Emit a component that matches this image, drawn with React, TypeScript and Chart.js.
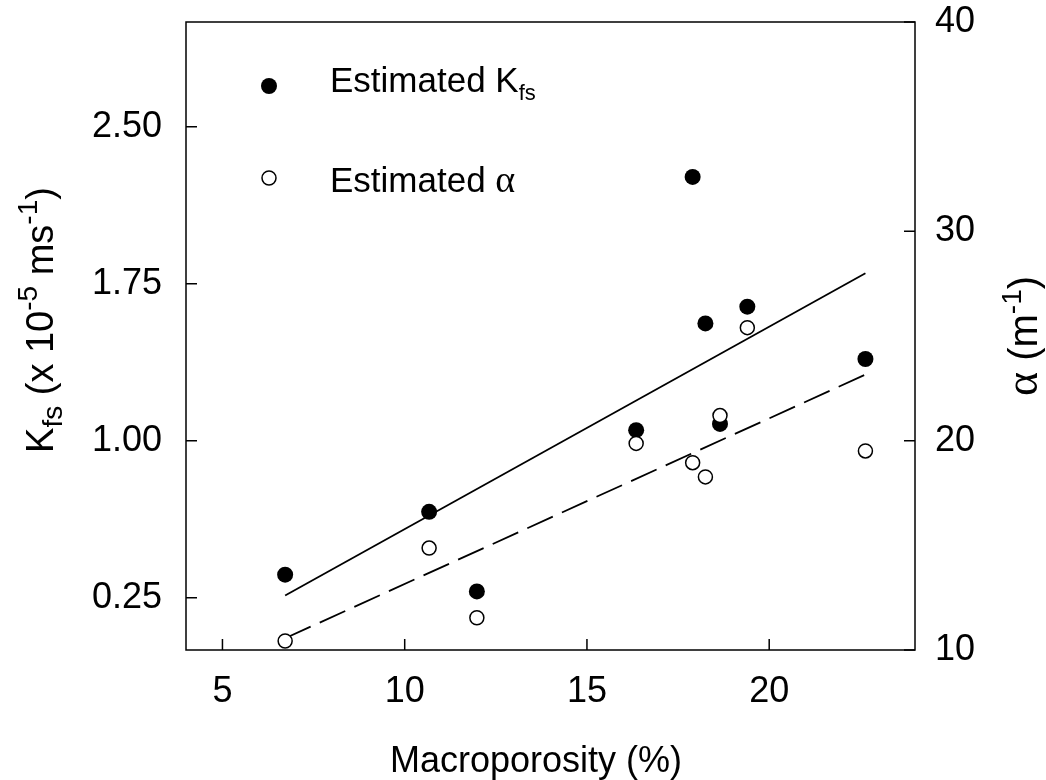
import React, { useEffect, useRef } from "react";
import { Chart, registerables } from "chart.js";
Chart.register(...registerables);

// ---- Data ----
const macroporosity = [6.72, 10.67, 11.98, 16.35, 17.9, 18.25, 18.65, 19.4, 22.64];
const kfsValues = [0.36, 0.66, 0.28, 1.05, 2.26, 1.56, 1.08, 1.64, 1.39];
const alphaValues = [10.43, 14.87, 11.54, 19.87, 18.95, 18.27, 21.2, 25.4, 19.51];
const kfsFitX = [6.72, 22.64];
const kfsFitY = [0.26, 1.8];
const alphaFitX = [6.72, 22.62];
const alphaFitY = [10.56, 23.14];
const xTicks = [5, 10, 15, 20];
const kfsTicks = [0.25, 1.0, 1.75, 2.5];
const alphaTicks = [10, 20, 30, 40];

const SANS = "'Liberation Sans', Arial, sans-serif";
const SERIF = "'Liberation Serif', 'Times New Roman', serif";

type Seg = { t: string; size: number; dy: number; serif?: boolean };

function drawRich(
  ctx: CanvasRenderingContext2D,
  segs: Seg[],
  x: number,
  y: number,
  rot: number,
  align: "center" | "left"
) {
  ctx.save();
  ctx.translate(x, y);
  ctx.rotate(rot);
  ctx.fillStyle = "#000";
  ctx.textBaseline = "alphabetic";
  ctx.textAlign = "left";
  const widths = segs.map((s) => {
    ctx.font = `${s.size}px ${s.serif ? SERIF : SANS}`;
    return ctx.measureText(s.t).width;
  });
  const total = widths.reduce((a, b) => a + b, 0);
  let cx = align === "center" ? -total / 2 : 0;
  segs.forEach((s, i) => {
    ctx.font = `${s.size}px ${s.serif ? SERIF : SANS}`;
    ctx.fillText(s.t, cx, s.dy);
    cx += widths[i];
  });
  ctx.restore();
}

const zeroPad = (s: any) => {
  s.paddingTop = 0;
  s.paddingBottom = 0;
  s.paddingLeft = 0;
  s.paddingRight = 0;
};

const decorPlugin = {
  id: "decor",
  afterDraw(chart: any) {
    const ctx: CanvasRenderingContext2D = chart.ctx;
    const { left, right, top, bottom } = chart.chartArea;
    ctx.save();
    ctx.strokeStyle = "#000";
    ctx.lineWidth = 1.5;
    ctx.strokeRect(left, top, right - left, bottom - top);

    // inward ticks
    const tl = 11;
    ctx.beginPath();
    const sx = chart.scales.x;
    sx.ticks.forEach((t: any) => {
      const p = sx.getPixelForValue(t.value);
      ctx.moveTo(p, bottom);
      ctx.lineTo(p, bottom - tl);
    });
    const sy = chart.scales.y;
    sy.ticks.forEach((t: any) => {
      const p = sy.getPixelForValue(t.value);
      ctx.moveTo(left, p);
      ctx.lineTo(left + tl, p);
    });
    const sy1 = chart.scales.y1;
    sy1.ticks.forEach((t: any) => {
      const p = sy1.getPixelForValue(t.value);
      ctx.moveTo(right, p);
      ctx.lineTo(right - tl, p);
    });
    ctx.stroke();

    // legend
    ctx.fillStyle = "#000";
    ctx.beginPath();
    ctx.arc(269, 86, 8, 0, Math.PI * 2);
    ctx.fill();
    ctx.beginPath();
    ctx.fillStyle = "#fff";
    ctx.lineWidth = 1.5;
    ctx.arc(269, 178, 7, 0, Math.PI * 2);
    ctx.fill();
    ctx.stroke();
    ctx.restore();

    drawRich(
      ctx,
      [
        { t: "Estimated K", size: 35, dy: 0 },
        { t: "fs", size: 22, dy: 8 },
      ],
      330,
      92,
      0,
      "left"
    );
    drawRich(
      ctx,
      [
        { t: "Estimated ", size: 35, dy: 0 },
        { t: "\u03b1", size: 38, dy: 0, serif: true },
      ],
      330,
      192,
      0,
      "left"
    );

    // x-axis title
    drawRich(ctx, [{ t: "Macroporosity (%)", size: 36, dy: 0 }], 536, 772, 0, "center");

    // left y title
    drawRich(
      ctx,
      [
        { t: "K", size: 38, dy: 0 },
        { t: "fs", size: 28, dy: 9 },
        { t: " (x 10", size: 38, dy: 0 },
        { t: "-5", size: 28, dy: -16 },
        { t: " ms", size: 38, dy: 0 },
        { t: "-1", size: 28, dy: -16 },
        { t: ")", size: 38, dy: 0 },
      ],
      53,
      320,
      -Math.PI / 2,
      "center"
    );

    // right y title
    drawRich(
      ctx,
      [
        { t: "\u03b1", size: 46, dy: 0, serif: true },
        { t: " (m", size: 40, dy: 0 },
        { t: "-1", size: 28, dy: -16 },
        { t: ")", size: 40, dy: 0 },
      ],
      1037,
      336,
      -Math.PI / 2,
      "center"
    );
  },
};

export default function App() {
  const ref = useRef<HTMLCanvasElement>(null);
  useEffect(() => {
    const tickFont = { family: SANS, size: 36 };
    const chart = new Chart(ref.current as HTMLCanvasElement, {
      type: "scatter",
      data: {
        datasets: [
          {
            label: "Estimated alpha",
            data: macroporosity.map((x, i) => ({ x, y: alphaValues[i] })),
            yAxisID: "y1",
            pointRadius: 7,
            pointHoverRadius: 7,
            backgroundColor: "#fff",
            borderColor: "#000",
            borderWidth: 1.5,
            order: 0,
          },
          {
            label: "Estimated Kfs",
            data: macroporosity.map((x, i) => ({ x, y: kfsValues[i] })),
            yAxisID: "y",
            pointRadius: 8,
            pointHoverRadius: 8,
            backgroundColor: "#000",
            borderColor: "#000",
            borderWidth: 0,
            order: 1,
          },
          {
            label: "Kfs fit",
            data: kfsFitX.map((x, i) => ({ x, y: kfsFitY[i] })),
            yAxisID: "y",
            showLine: true,
            pointRadius: 0,
            borderColor: "#000",
            borderWidth: 1.8,
            order: 2,
          },
          {
            label: "alpha fit",
            data: alphaFitX.map((x, i) => ({ x, y: alphaFitY[i] })),
            yAxisID: "y1",
            showLine: true,
            pointRadius: 0,
            borderColor: "#000",
            borderWidth: 1.8,
            borderDash: [28, 10],
            order: 3,
          },
        ],
      },
      options: {
        responsive: false,
        animation: false,
        layout: { padding: { top: 22, left: 0, right: 0, bottom: 0 } },
        plugins: { legend: { display: false }, tooltip: { enabled: false } },
        scales: {
          x: {
            type: "linear",
            min: 4,
            max: 24,
            afterBuildTicks: (s: any) => {
              s.ticks = xTicks.map((v) => ({ value: v }));
            },
            afterFit: (s: any) => {
              s.height = 130;
              zeroPad(s);
            },
            grid: { display: false, drawTicks: false },
            border: { display: false },
            ticks: { font: tickFont, color: "#000", padding: 20, maxRotation: 0 },
          },
          y: {
            type: "linear",
            position: "left",
            min: 0,
            max: 3,
            afterBuildTicks: (s: any) => {
              s.ticks = kfsTicks.map((v) => ({ value: v }));
            },
            afterFit: (s: any) => {
              s.width = 186;
              zeroPad(s);
            },
            grid: { display: false, drawTicks: false },
            border: { display: false },
            ticks: {
              font: tickFont,
              color: "#000",
              padding: 24,
              callback: (v: any) => Number(v).toFixed(2),
            },
          },
          y1: {
            type: "linear",
            position: "right",
            min: 10,
            max: 40,
            afterBuildTicks: (s: any) => {
              s.ticks = alphaTicks.map((v) => ({ value: v }));
            },
            afterFit: (s: any) => {
              s.width = 131;
              zeroPad(s);
            },
            grid: { display: false, drawTicks: false },
            border: { display: false },
            ticks: { font: tickFont, color: "#000", padding: 20 },
          },
        },
      },
      plugins: [decorPlugin],
    } as any);
    return () => chart.destroy();
  }, []);
  return (
    <div
      style={{
        position: "fixed",
        left: 0,
        top: 0,
        width: 1046,
        height: 780,
        background: "#fff",
      }}
    >
      <canvas ref={ref} width={1046} height={780} />
    </div>
  );
}
